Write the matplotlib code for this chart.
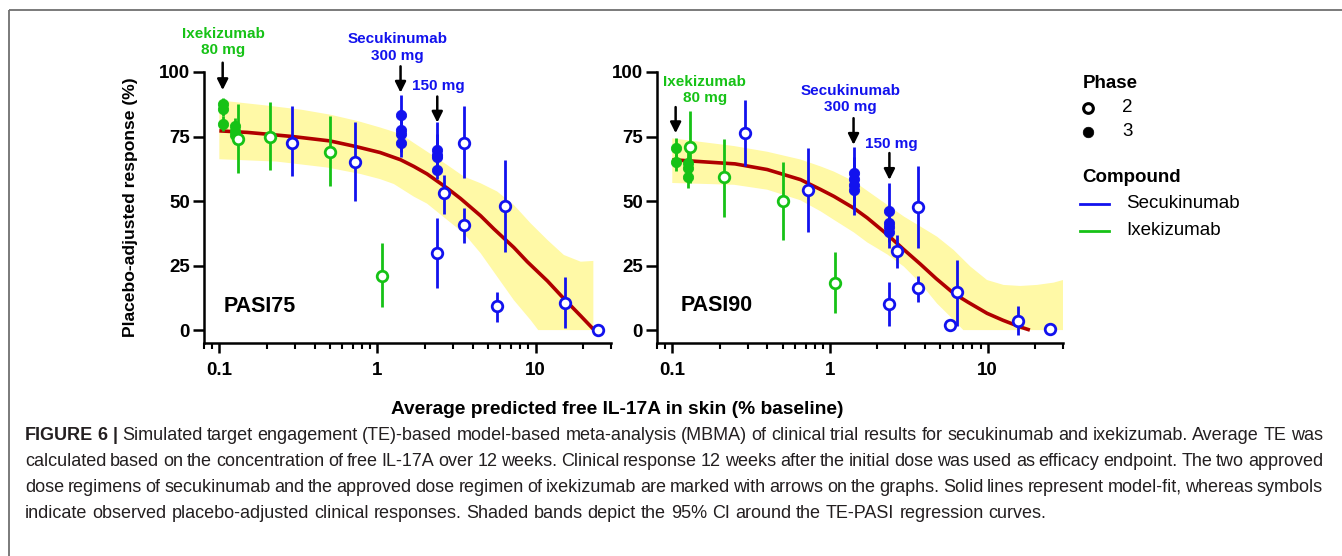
import matplotlib
matplotlib.use('Agg')
import matplotlib.pyplot as plt
import numpy as np
from matplotlib.ticker import FixedLocator, NullFormatter, FixedFormatter, LogLocator

plt.rcParams['font.family'] = ['Liberation Sans', 'DejaVu Sans']

# ---------------- data ----------------
# PASI75 observations
p75_x = [0.105, 0.105, 0.105, 0.125, 0.125, 0.125, 0.131, 0.21, 0.29, 0.5, 0.72, 1.07,
         1.40, 1.40, 1.40, 1.40, 2.39, 2.39, 2.39, 2.39, 2.37, 2.63, 3.55, 3.55, 5.72, 6.37, 15.3, 24.7]
p75_y = [87.5, 85.5, 80, 79, 77, 75.5, 74, 75, 72.4, 69, 65, 21,
         83.5, 77.5, 76, 72.5, 69.9, 68, 67, 62.1, 30, 53, 72.4, 40.7, 9.2, 48.1, 10.6, 0]
p75_lo = [85, 83, 77, 76, 74, 72, 61, 62, 59.7, 56, 50, 8.8,
          76, 71, 69, 67, 62, 61, 60, 58.4, 16.2, 45, 59, 33.9, 3.3, 30.4, 0.7, 0]
p75_hi = [90, 88, 83, 82, 80, 79, 87.7, 88.2, 87, 83, 80.5, 33.6,
          91, 84, 83, 78, 80.6, 76, 74, 66, 43.5, 60, 86.9, 47.4, 14.6, 66, 20.5, 0]
p75_phase = [3, 3, 3, 3, 3, 3, 2, 2, 2, 2, 2, 2,
             3, 3, 3, 3, 3, 3, 3, 3, 2, 2, 2, 2, 2, 2, 2, 2]
p75_drug = ['I', 'I', 'I', 'I', 'I', 'I', 'I', 'I', 'S', 'I', 'S', 'I',
            'S', 'S', 'S', 'S', 'S', 'S', 'S', 'S', 'S', 'S', 'S', 'S', 'S', 'S', 'S', 'S']

# PASI75 model fit and 95% CI band
p75_fit_x = [0.1, 0.15, 0.21, 0.29, 0.5, 0.72, 1.04, 1.4, 1.7, 2.06, 2.76, 3.35, 4.49, 5.45,
             7.29, 8.86, 11.9, 15.1, 19.3, 23.5]
p75_fit_y = [77.2, 76.6, 75.8, 75.0, 73.3, 71.2, 68.8, 66.0, 63.4, 60.5, 55.0, 51.0, 44.3, 39.2,
             32.0, 26.5, 19.0, 12.2, 5.5, 0.0]
p75_up_x = [0.1, 0.2, 0.33, 0.5, 0.75, 1.04, 1.4, 1.7, 2.2, 2.76, 3.52, 4.49, 5.72, 7.29,
            9.3, 11.9, 15.1, 19.3, 23.2]
p75_up_y = [89, 87, 85.4, 83.5, 81, 78.5, 76, 72.5, 68, 64, 59.5, 56.9, 53.7, 48.5,
            41.4, 34.9, 29.1, 26.5, 26.8]
p75_lo_x = [0.1, 0.23, 0.48, 0.78, 1.04, 1.27, 1.7, 2.06, 2.76, 3.52, 4.49, 5.72, 7.29,
            9.3, 10.4, 23.2]
p75_lo_y = [66.2, 65.3, 63, 60.5, 58.5, 56.6, 51.7, 49, 42.7, 37.5, 29.8, 20.7, 11.6,
            3.9, 0, 0]

# PASI90 observations
p90_x = [0.105, 0.105, 0.126, 0.126, 0.126, 0.13, 0.213, 0.29, 0.5, 0.73, 1.07,
         1.41, 1.41, 1.41, 1.41, 2.38, 2.38, 2.38, 2.38, 2.36, 2.67, 3.6, 3.6, 5.8, 6.38, 15.5, 24.9]
p90_y = [70.5, 65.3, 64.7, 62.8, 59.5, 71.1, 59.2, 76.3, 50.2, 54.3, 18.1,
         60.8, 58.5, 56.3, 54.3, 46, 41.4, 40.1, 38.2, 10.2, 30.5, 47.8, 16.2, 1.9, 14.6, 3.6, 0.3]
p90_lo = [66, 61.5, 61, 59, 55, 57, 44, 63.4, 35, 38.1, 6.5,
          53, 50, 48, 44.6, 39, 35, 34, 32, 1.4, 24, 32, 11, 1.9, 1.7, -1.9, 0.3]
p90_hi = [74.3, 69, 69, 67, 64, 85, 74.2, 89.2, 65.3, 70.7, 30.1,
          71.1, 67, 64, 62, 56.9, 48, 46, 44, 18.8, 36.9, 63.4, 21, 1.9, 27, 9.5, 0.3]
p90_phase = [3, 3, 3, 3, 3, 2, 2, 2, 2, 2, 2,
             3, 3, 3, 3, 3, 3, 3, 3, 2, 2, 2, 2, 2, 2, 2, 2]
p90_drug = ['I', 'I', 'I', 'I', 'I', 'I', 'I', 'S', 'I', 'S', 'I',
            'S', 'S', 'S', 'S', 'S', 'S', 'S', 'S', 'S', 'S', 'S', 'S', 'S', 'S', 'S', 'S']

# PASI90 model fit and 95% CI band
p90_fit_x = [0.1, 0.25, 0.4, 0.65, 0.87, 1.06, 1.42, 1.72, 2.31, 2.9, 3.75, 4.7, 6.09, 7.5,
             9.9, 12.5, 16.1, 18.5]
p90_fit_y = [66, 64.4, 62.2, 58.3, 54.5, 51.8, 47.2, 43.5, 37, 31.5, 25.5, 20, 14.2, 10.8,
             6.5, 3.8, 1.2, 0]
p90_up_x = [0.1, 0.247, 0.4, 0.65, 0.873, 1.06, 1.42, 1.72, 2.31, 2.94, 3.75, 4.77, 6.09,
            7.77, 9.9, 12.6, 16.1, 20.5, 26.2, 30]
p90_up_y = [74.3, 71.3, 69.1, 66.1, 63.4, 61.4, 57.6, 54, 48.5, 44, 40.1, 36.2, 31,
            24.6, 19.4, 17.5, 17.1, 17.5, 18.4, 19.4]
p90_lo_x = [0.1, 0.247, 0.4, 0.65, 0.873, 1.06, 1.42, 1.72, 2.31, 2.94, 3.75, 4.77, 6.09,
            7.0, 30]
p90_lo_y = [57, 56.3, 54.4, 50.3, 46, 42.7, 37.8, 34, 29.3, 24.6, 18.1, 10.3, 3.9, 0, 0]

# dose-marker annotations: (text, x, y, color), arrows: (x, y_start, y_end)
p75_notes = [("Ixekizumab\n80 mg", 0.106, 111.7, 'G'),
             ("Secukinumab\n300 mg", 1.34, 109.5, 'B'),
             ("150 mg", 2.44, 94.4, 'B')]
p75_arrows = [(0.105, 103.6, 93.0), (1.40, 102.2, 92.0), (2.39, 90.5, 80.4)]
p90_notes = [("Ixekizumab\n80 mg", 0.161, 93.1, 'G'),
             ("Secukinumab\n300 mg", 1.35, 89.4, 'B'),
             ("150 mg", 2.46, 72.2, 'B')]
p90_arrows = [(0.105, 86.4, 76.3), (1.41, 82.1, 71.8), (2.38, 68.6, 58.2)]

x_ticks = [0.1, 1, 10]
x_ticklabels = ['0.1', '1', '10']
y_ticks = [0, 25, 50, 75, 100]
y_ticklabels = ['0', '25', '50', '75', '100']

caption_lines = [
    "FIGURE 6 | Simulated target engagement (TE)-based model-based meta-analysis (MBMA) of clinical trial results for secukinumab and ixekizumab. Average TE was",
    "calculated based on the concentration of free IL-17A over 12 weeks. Clinical response 12 weeks after the initial dose was used as efficacy endpoint. The two approved",
    "dose regimens of secukinumab and the approved dose regimen of ixekizumab are marked with arrows on the graphs. Solid lines represent model-fit, whereas symbols",
    "indicate observed placebo-adjusted clinical responses. Shaded bands depict the 95% CI around the TE-PASI regression curves.",
]

# ---------------- style ----------------
BLUE = '#1212EE'
GREEN = '#16C216'
RED = '#B00000'
BAND = '#FFF9A6'
COL = {'S': BLUE, 'I': GREEN, 'B': BLUE, 'G': GREEN}

W, H = 1342, 556
fig = plt.figure(figsize=(W / 100, H / 100), dpi=100)


def ax_rect(x0, x1, ytop, ybot):
    return [x0 / W, 1 - ybot / H, (x1 - x0) / W, (ybot - ytop) / H]


lax = fig.add_axes([0, 0, 1, 1], zorder=-5)
lax.set_xlim(0, W)
lax.set_ylim(H, 0)
lax.axis('off')

axL = fig.add_axes(ax_rect(204, 611, 72, 343))
axR = fig.add_axes(ax_rect(657, 1063, 72, 343))


def draw_panel(ax, fx, fy, ux, uy, lx, ly, x, y, lo, hi, ph, dr, notes, arrows, label, label_x, label_y):
    ax.set_xscale('log')
    ax.set_xlim(0.08, 30)
    ax.set_ylim(-5, 100)
    ax.fill(list(ux) + list(lx)[::-1], list(uy) + list(ly)[::-1], color=BAND, lw=0, zorder=1)
    ax.plot(fx, fy, color=RED, lw=2.6, zorder=2, solid_joinstyle='round', solid_capstyle='butt')
    for xi, l, h, d in zip(x, lo, hi, dr):
        if h > l:
            ax.plot([xi, xi], [l, h], color=COL[d], lw=2.0, zorder=3, solid_capstyle='butt')
    for xi, yi, p, d in zip(x, y, ph, dr):
        if p == 2:
            ax.plot(xi, yi, 'o', ms=7.6, mfc='white', mec=COL[d], mew=2.0, zorder=5, clip_on=False)
        else:
            ax.plot(xi, yi, 'o', ms=7.4, mfc=COL[d], mec=COL[d], mew=0.6, zorder=4, clip_on=False)
    for txt, tx, ty, c in notes:
        ax.text(tx, ty, txt, color=COL[c], fontsize=11, fontweight='bold', ha='center', va='center',
                multialignment='center', linespacing=1.2, clip_on=False)
    for axx, y0, y1 in arrows:
        ax.annotate('', xy=(axx, y1), xytext=(axx, y0),
                    arrowprops=dict(arrowstyle='-|>', color='black', lw=1.8, mutation_scale=16,
                                    shrinkA=0, shrinkB=0),
                    annotation_clip=False)
    ax.text(label_x, label_y, label, fontsize=15.5, fontweight='bold', ha='left', va='center')

    for s in ['top', 'right']:
        ax.spines[s].set_visible(False)
    for s in ['left', 'bottom']:
        ax.spines[s].set_linewidth(1.8)
    ax.xaxis.set_major_locator(FixedLocator(x_ticks))
    ax.xaxis.set_major_formatter(FixedFormatter(x_ticklabels))
    ax.xaxis.set_minor_locator(LogLocator(base=10, subs=[2, 3, 4, 5, 6, 7, 8, 9], numticks=20))
    ax.xaxis.set_minor_formatter(NullFormatter())
    ax.yaxis.set_major_locator(FixedLocator(y_ticks))
    ax.yaxis.set_major_formatter(FixedFormatter(y_ticklabels))
    ax.tick_params(axis='x', which='major', length=7.5, width=1.8, pad=6, labelsize=13.5, direction='out')
    ax.tick_params(axis='x', which='minor', length=4, width=1.5, direction='out')
    ax.tick_params(axis='y', which='major', length=8, width=1.8, pad=2, labelsize=13.5, direction='out')
    for t in ax.get_xticklabels() + ax.get_yticklabels():
        t.set_fontweight('bold')
    ax.patch.set_alpha(0)


draw_panel(axL, p75_fit_x, p75_fit_y, p75_up_x, p75_up_y, p75_lo_x, p75_lo_y,
           p75_x, p75_y, p75_lo, p75_hi, p75_phase, p75_drug, p75_notes, p75_arrows,
           'PASI75', 0.106, 9.3)
draw_panel(axR, p90_fit_x, p90_fit_y, p90_up_x, p90_up_y, p90_lo_x, p90_lo_y,
           p90_x, p90_y, p90_lo, p90_hi, p90_phase, p90_drug, p90_notes, p90_arrows,
           'PASI90', 0.1135, 9.7)

# axis titles
lax.text(130, 207.5, 'Placebo-adjusted response (%)', rotation=90, fontsize=12.6, fontweight='bold',
         ha='center', va='center')
lax.text(617, 409, 'Average predicted free IL-17A in skin (% baseline)', fontsize=13.8,
         fontweight='bold', ha='center', va='center')

# legend
lax.text(1083, 83, 'Phase', fontsize=13.5, fontweight='bold', ha='left', va='center')
lax.plot([1088], [108], 'o', ms=7.0, mfc='white', mec='black', mew=2.2)
lax.plot([1088], [131.5], 'o', ms=7.6, mfc='black', mec='black', mew=0.5)
lax.text(1122, 108, '2', fontsize=13.5, ha='left', va='center')
lax.text(1122, 131.5, '3', fontsize=13.5, ha='left', va='center')
lax.text(1082, 177, 'Compound', fontsize=13.5, fontweight='bold', ha='left', va='center')
lax.plot([1080, 1109], [204, 204], color=BLUE, lw=2)
lax.plot([1080, 1109], [230.5, 230.5], color=GREEN, lw=2)
lax.text(1126, 204, 'Secukinumab', fontsize=13.5, ha='left', va='center')
lax.text(1126, 230.5, 'Ixekizumab', fontsize=13.5, ha='left', va='center')

# frame lines
lax.plot([9, W], [10, 10], color='#707070', lw=1.3, solid_capstyle='butt')
lax.plot([9, 9], [10, H], color='#707070', lw=1.3, solid_capstyle='butt')

# caption (justified)
CAP_FS = 13
CAP_FAM = ['Liberation Sans Narrow', 'Liberation Sans', 'DejaVu Sans']
CAP_COL = '#231F20'
renderer = fig.canvas.get_renderer()


def text_w(s, bold):
    t = lax.text(0, 0, s, fontsize=CAP_FS, fontweight='bold' if bold else 'normal', family=CAP_FAM)
    w = t.get_window_extent(renderer).width
    t.remove()
    return w


space_w = text_w('x x', False) - text_w('xx', False)
cap_left, cap_right = 25, 1323
cap_y = [436, 462, 487.5, 513]
for li, line in enumerate(caption_lines):
    words = line.split(' ')
    bold = [li == 0 and wi < 3 for wi in range(len(words))]
    widths = [text_w(w_, b) for w_, b in zip(words, bold)]
    if li < len(caption_lines) - 1:
        gap = (cap_right - cap_left - sum(widths)) / (len(words) - 1)
    else:
        gap = space_w
    xc = cap_left
    for w_, b, wd in zip(words, bold, widths):
        lax.text(xc, cap_y[li], w_, fontsize=CAP_FS, fontweight='bold' if b else 'normal',
                 family=CAP_FAM, color=CAP_COL, ha='left', va='center')
        xc += wd + gap

fig.savefig('out.png', dpi=100)
